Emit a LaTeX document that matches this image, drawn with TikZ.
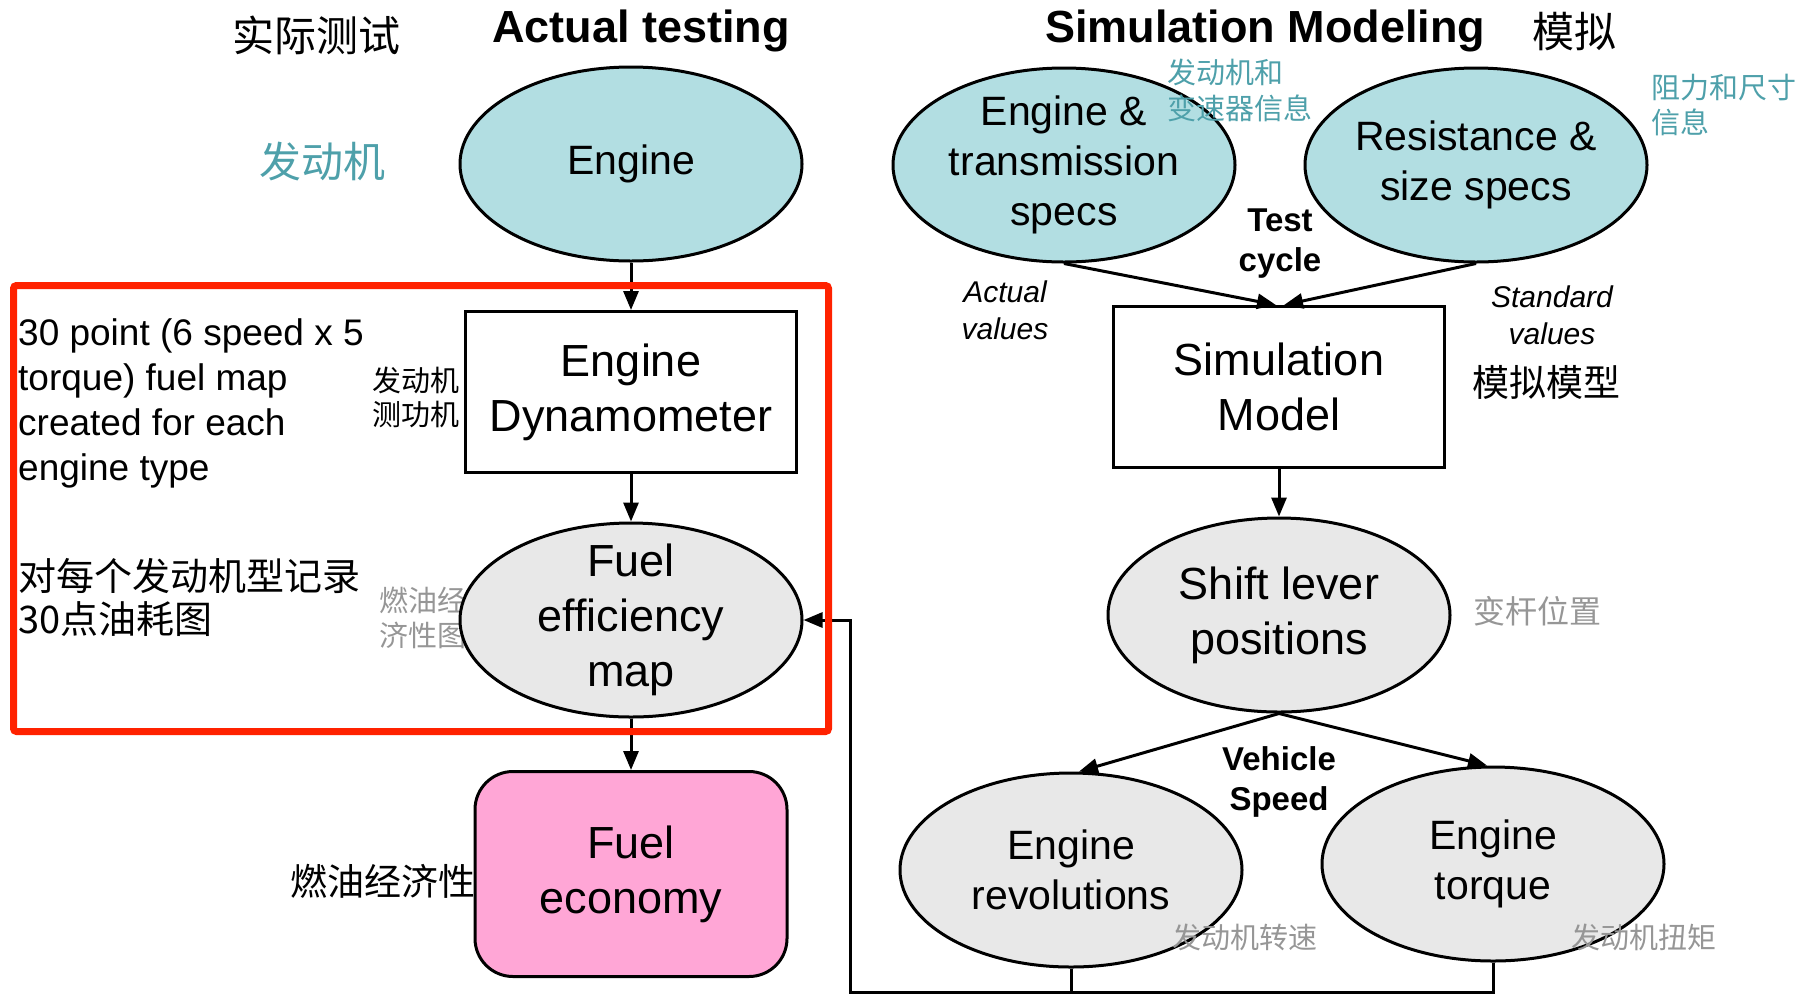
\documentclass[tikz,border=0pt]{standalone}
\usepackage{fontspec}
\setmainfont{Liberation Sans}
\newfontfamily\cjk{Noto Sans CJK SC}
\usetikzlibrary{arrows.meta,shapes.geometric,positioning}

\definecolor{specblue}{RGB}{178,222,226}
\definecolor{mapgrey}{RGB}{232,232,232}
\definecolor{econpink}{RGB}{255,166,214}
\definecolor{noteteal}{RGB}{78,160,170}
\definecolor{notegrey}{RGB}{150,150,150}
\definecolor{markred}{RGB}{255,34,0}

\tikzset{
  body/.style={font=\fontsize{45}{55}\selectfont, align=center, draw=black, line width=3pt},
  tight/.style={font=\fontsize{41}{50}\selectfont},
  ovalnode/.style={body, ellipse, minimum width=342pt, minimum height=194pt, inner sep=-30pt},
  blueoval/.style={ovalnode, tight, fill=specblue},
  greyoval/.style={ovalnode, fill=mapgrey},
  plainbox/.style={body, rectangle, minimum width=331pt, minimum height=161pt},
  link/.style={line width=3pt, -{Triangle[length=19pt,width=15pt]}},
  headlbl/.style={font=\fontsize{45}{54}\selectfont\bfseries},
  cue/.style={font=\fontsize{33}{40}\selectfont\bfseries, align=center},
  cueit/.style={font=\fontsize{30}{37}\selectfont\itshape, align=center},
  zh/.style 2 args={font=\cjk\fontsize{#1}{#2}\selectfont, align=center, inner sep=0pt},
}

\begin{document}
\begin{tikzpicture}[x=1pt,y=-1pt]
  \useasboundingbox (0,0) rectangle (1806,994);

  % headings
  \node[headlbl] (hact) at (641,31) {Actual testing};
  \node[headlbl] (hsim) at (1265,31) {Simulation Modeling};
  \node[zh={42}{50}] (zact) at (316,35) {实际测试};
  \node[zh={42}{50}] (zsim) at (1574,32) {模拟};

  % actual testing column (grey note sits behind the map oval)
  \node[zh={29}{35}, text=notegrey] (zfem) at (423,618) {燃油经\\济性图};
  \node[blueoval] (eng) at (631,164) {Engine};
  \node[plainbox] (dyn) at (631,392) {Engine\\Dynamometer};
  \node[greyoval] (fem) at (631,620) {Fuel\\efficiency\\map};
  \node[plainbox, fill=econpink, rounded corners=38pt, minimum width=312pt,
        minimum height=205pt] (econ) at (631,874) {Fuel\\economy};

  \node[zh={42}{50}, text=noteteal] (zeng) at (322,162) {发动机};
  \node[zh={29}{34}] (zdyn) at (416,397) {发动机\\测功机};
  \node[zh={37}{43}] (zecon) at (383,881) {燃油经济性};
  \node[font=\fontsize{37}{45}\selectfont, align=left, anchor=west, inner sep=0pt] (note)
    at (18,403) {30 point (6 speed x 5\\torque) fuel map\\created for each\\engine type};
  \node[zh={38}{43}, align=left, anchor=west] (znote) at (18,597) {对每个发动机型记录\\30点油耗图};

  % simulation column
  \node[blueoval] (ets) at (1064,165) {Engine \&\\transmission\\specs};
  \node[blueoval] (res) at (1476,165) {Resistance \&\\size specs};
  \node[plainbox] (sim) at (1279,387) {Simulation\\Model};
  \node[greyoval] (shift) at (1279,615) {Shift lever\\positions};
  \node[greyoval, tight] (rev) at (1071,870) {Engine\\revolutions};
  \node[greyoval, tight] (trq) at (1493,864) {Engine\\torque};

  \node[cue] (tcyc) at (1280,244) {Test\\cycle};
  \node[cue] (vspd) at (1279,782) {Vehicle\\Speed};
  \node[cueit] (actv) at (1005,310) {Actual\\values};
  \node[cueit] (stdv) at (1552,315) {Standard\\values};

  \node[zh={29}{36}, text=noteteal, align=left, anchor=west] (zets) at (1167,90) {发动机和\\变速器信息};
  \node[zh={29}{35}, text=noteteal, align=left, anchor=west] (zres) at (1651,105) {阻力和尺寸\\信息};
  \node[zh={37}{43}] (zsim2) at (1546,382) {模拟模型};
  \node[zh={32}{38}, text=notegrey] (zshift) at (1537,611) {变杆位置};
  \node[zh={29}{35}, text=notegrey] (zrev) at (1245,937) {发动机转速};
  \node[zh={29}{35}, text=notegrey] (ztrq) at (1644,937) {发动机扭矩};

  % connectors
  \draw[link] (eng.south) -- (dyn.north);
  \draw[link] (dyn.south) -- (fem.north);
  \draw[link] (fem.south) -- (econ.north);
  \draw[link] (ets.south) -- ([xshift=-3pt]sim.north);
  \draw[link] (res.south) -- ([xshift=5pt]sim.north);
  \draw[link] (sim.south) -- (shift.north);
  \draw[link] (shift.south) -- ([xshift=8pt]rev.north);
  \draw[link] (shift.south) -- ([xshift=-6pt]trq.north);

  % feedback from the outputs into the map
  \coordinate (fbl) at (850,992);
  \draw[line width=3pt] (trq.south) |- (fbl);
  \draw[link] (rev.south) |- (fbl) |- (fem.east);

  % highlight frame
  \draw[markred, line width=7pt, rounded corners=3pt] (13.5,285.5) rectangle (828.5,731.5);
\end{tikzpicture}
\end{document}
